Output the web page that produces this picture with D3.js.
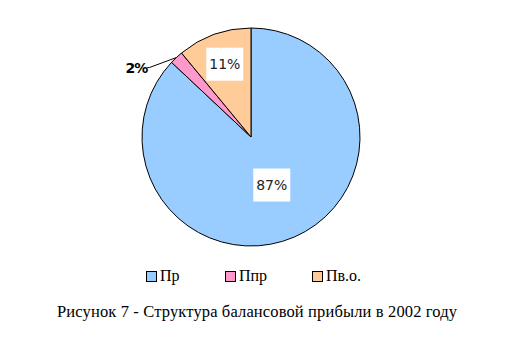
<!DOCTYPE html>
<html>
<head>
<meta charset="utf-8">
<script src="https://cdn.jsdelivr.net/npm/d3@7"></script>
<style>
  body { margin: 0; background: #fff; }
</style>
</head>
<body>
<div id="chart"></div>
<script>
// chart data
const categories = ["Пр", "Ппр", "Пв.о."];
const values = [87, 2, 11];
const colors = ["#99CCFF", "#FF99CC", "#FFCC99"];
const caption = "Рисунок 7 - Структура балансовой прибыли в 2002 году";

const width = 519, height = 360;
const cx = 251, cy = 137, r = 109;

const svg = d3.select("#chart")
  .append("svg")
  .attr("width", width)
  .attr("height", height);

const pie = d3.pie().sort(null).value(d => d);
const arcs = pie(values);
const arc = d3.arc().innerRadius(0).outerRadius(r);

const g = svg.append("g")
  .attr("transform", "translate(" + cx + "," + cy + ")");

g.selectAll("path")
  .data(arcs)
  .enter()
  .append("path")
  .attr("d", arc)
  .attr("fill", (d, i) => colors[i])
  .attr("stroke", "#000")
  .attr("stroke-width", 1);

const total = d3.sum(values);
const pct = v => Math.round(v / total * 100) + "%";

// labels inside slices, with white box
const inside = [0, 2];
const labelR = { 0: 0.48, 2: 0.71 };
inside.forEach(i => {
  const a = (arcs[i].startAngle + arcs[i].endAngle) / 2;
  const x = Math.sin(a) * r * labelR[i];
  const y = -Math.cos(a) * r * labelR[i];
  g.append("rect")
    .attr("x", x - 18.5)
    .attr("y", y - 16.5)
    .attr("width", 37)
    .attr("height", 33)
    .attr("fill", "#fff");
  g.append("text")
    .attr("x", x)
    .attr("y", y + 5)
    .attr("text-anchor", "middle")
    .style("font-family", "DejaVu Sans, sans-serif")
    .style("font-size", "14px")
    .attr("fill", "#222")
    .text(pct(values[i]));
});

// small slice label outside with leader line
{
  const i = 1;
  const a = (arcs[i].startAngle + arcs[i].endAngle) / 2;
  const px = Math.sin(a) * r, py = -Math.cos(a) * r;
  const lx = px - 27, ly = py + 10;
  g.append("polyline")
    .attr("points", [[px, py], [lx, ly], [lx - 2, ly]].map(p => p.join(",")).join(" "))
    .attr("fill", "none")
    .attr("stroke", "#000")
    .attr("stroke-width", 1);
  g.append("text")
    .attr("x", lx - 2)
    .attr("y", ly + 5)
    .attr("text-anchor", "end")
    .style("font-family", "DejaVu Sans, sans-serif")
    .style("font-size", "14px")
    .style("font-weight", "bold")
    .style("letter-spacing", "-1px")
    .attr("fill", "#000")
    .text(pct(values[i]));
}

// legend
const legendPos = [146, 225, 312];
const legend = svg.append("g");
categories.forEach((c, i) => {
  const x = legendPos[i];
  legend.append("rect")
    .attr("x", x + 0.5)
    .attr("y", 271.5)
    .attr("width", 10)
    .attr("height", 10)
    .attr("fill", colors[i])
    .attr("stroke", "#000");
  legend.append("text")
    .attr("x", x + 14)
    .attr("y", 281)
    .style("font-family", "Liberation Serif, serif")
    .style("font-size", "16px")
    .text(c);
});

// caption
svg.append("text")
  .attr("x", 257)
  .attr("y", 317)
  .attr("text-anchor", "middle")
  .style("font-family", "Liberation Serif, serif")
  .style("font-size", "16.5px")
  .attr("textLength", 400)
  .attr("lengthAdjust", "spacing")
  .text(caption);
</script>
</body>
</html>
